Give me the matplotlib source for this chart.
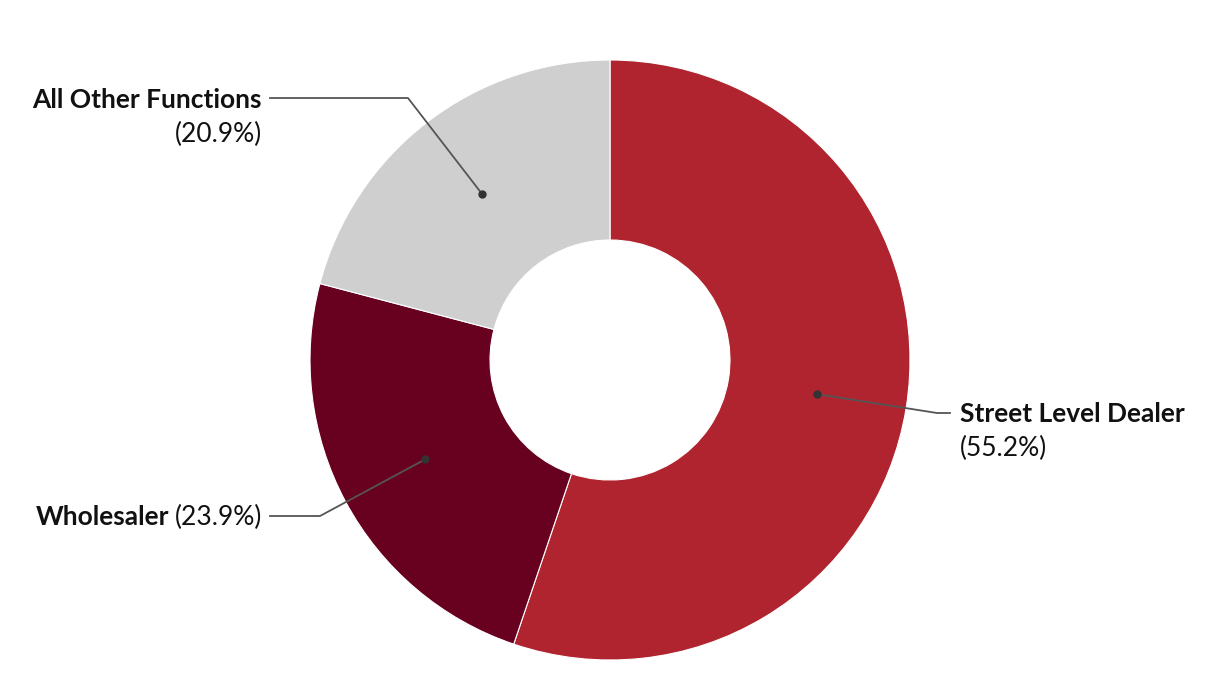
import numpy as np
import matplotlib
matplotlib.use("Agg")
import matplotlib.pyplot as plt

plt.rcParams['font.family'] = ['Lato', 'DejaVu Sans']

labels = ["Street Level Dealer", "Wholesaler", "All Other Functions"]
shares = [55.2, 23.9, 20.9]
colors = ["#B0242F", "#680020", "#CFCFCF"]

W, H = 1220, 700
cx, cy, R = 610, 360, 300
FS = 19

fig = plt.figure(figsize=(W / 100, H / 100), dpi=100)
ax = fig.add_axes([0, 0, 1, 1])

wedges, _ = ax.pie(shares, colors=colors, startangle=90, counterclock=False,
                   radius=1, wedgeprops=dict(width=0.6, edgecolor="white", linewidth=0.8))

# pie() resets the limits, so set them afterwards
ax.set_xlim(-cx / R, (W - cx) / R)
ax.set_ylim(-(H - cy) / R, cy / R)
ax.set_aspect("equal")
ax.axis("off")


def px(x, y):
    return (x - cx) / R, (cy - y) / R


# elbow point, line end, text anchor (pixels), alignment, two-line?
layout = {
    "Street Level Dealer": ((937, 413), (950, 413), (960, 414), "left", True),
    "Wholesaler": ((320, 516), (270, 516), (262, 517), "right", False),
    "All Other Functions": ((408, 98), (270, 98), (262, 100), "right", True),
}

fig.canvas.draw()
for w, lab, val in zip(wedges, labels, shares):
    mid = np.deg2rad((w.theta1 + w.theta2) / 2)
    dx, dy = 0.7 * np.cos(mid), 0.7 * np.sin(mid)
    elbow, end, txt, ha, two = layout[lab]
    ex, ey = px(*elbow)
    tx, ty = px(*end)
    ax.plot([dx, ex, tx], [dy, ey, ty], color="#555555", lw=1.3, zorder=3)
    ax.plot(dx, dy, "o", color="#333333", ms=5, zorder=4)
    ax_x, ax_y = px(*txt)
    if two:
        ax.text(ax_x, ax_y, lab, ha=ha, va="center", fontsize=FS, fontweight="bold", color="#111111")
        ax.text(ax_x, ax_y - 34 / R, f"({val}%)", ha=ha, va="center", fontsize=FS, color="#111111")
    else:
        t = ax.text(ax_x, ax_y, f"({val}%)", ha="right", va="center", fontsize=FS, color="#111111")
        fig.canvas.draw()
        bb = t.get_window_extent()
        x0 = ax.transData.inverted().transform((bb.x0, 0))[0]
        ax.text(x0 - 5 / R, ax_y, lab, ha="right", va="center", fontsize=FS, fontweight="bold", color="#111111")

fig.savefig("out.png", dpi=100)
